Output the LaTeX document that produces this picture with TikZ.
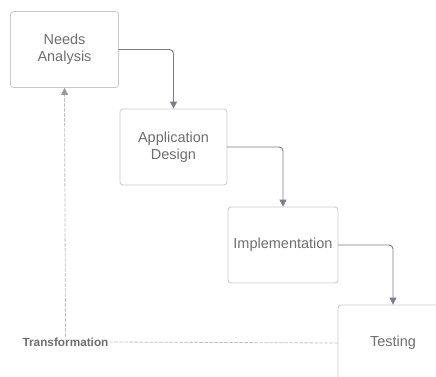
\documentclass[tikz,border=0pt]{standalone}
\usepackage{fontspec}
\setmainfont{Liberation Sans}
\usetikzlibrary{arrows.meta}
\definecolor{boxline}{HTML}{C8C8C8}
\definecolor{boxtext}{HTML}{6E6E6E}
\definecolor{flowline}{HTML}{7B7E86}
\definecolor{dashline}{HTML}{BDBDBD}
\definecolor{dashtip}{HTML}{9A9A9A}
\begin{document}
\begin{tikzpicture}[x=1pt,y=-1pt,line join=round,line cap=round,>={Triangle[width=7pt,length=7pt]}]
			\tikzset{phase/.style={draw=boxline,line width=0.8pt,rounded corners=3pt,minimum width=108pt,minimum height=76pt,align=center,text=boxtext,font=\fontsize{14.5}{17}\selectfont},
				flow/.style={->,draw=flowline,line width=0.9pt,rounded corners=4pt},
				feedback/.style={draw=dashline,line width=0.8pt,dash pattern=on 3pt off 2pt}}
			\useasboundingbox (0,0) rectangle (436,376);
			\clip (0,0) rectangle (436,376);
			\node[phase] (needs) at (64.5,49.5) {Needs\\Analysis};
			\node[phase,minimum width=107pt] (design) at (173.5,147) {Application\\Design};
			\node[phase,minimum width=110pt] (impl) at (283,245) {Implementation};
			\node[phase,minimum width=110pt] (test) at (393,343) {Testing};
			\node[text=boxtext,font=\bfseries\fontsize{11.8}{14}\selectfont,inner sep=1pt] (trans) at (65.5,342) {Transformation};
			\draw[flow] (needs.east) -| (design.north);
			\draw[flow] (design.east) -| (impl.north);
			\draw[flow] (impl.east) -| (test.north);
			\draw[feedback] (test.west) -- (trans.east);
			\draw[feedback,-{Triangle[width=7pt,length=7pt,color=dashtip]}] (trans.north) -- (needs.south);
		\end{tikzpicture}
\end{document}
